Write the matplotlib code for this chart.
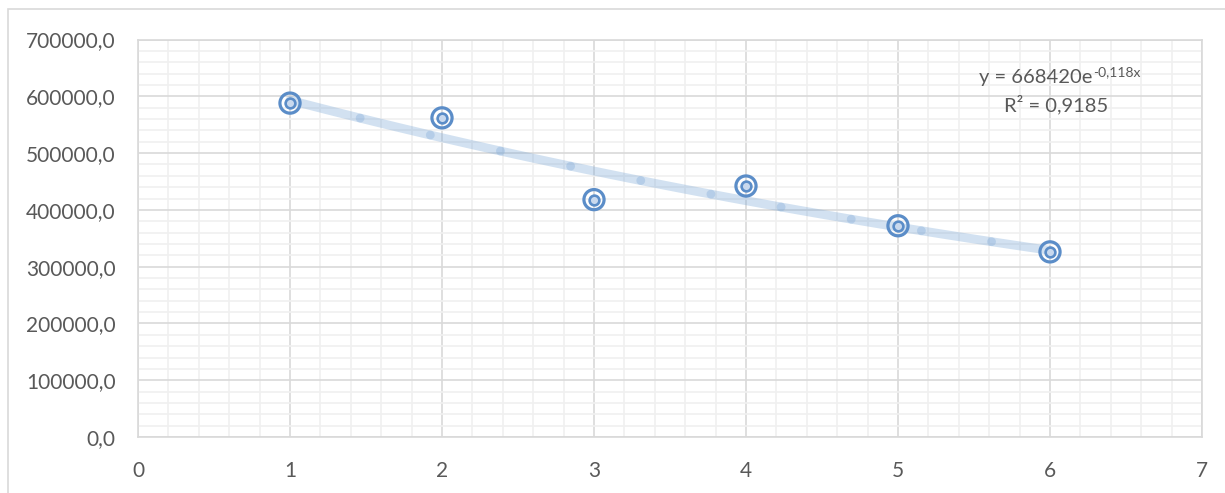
import numpy as np
import matplotlib
matplotlib.use('Agg')
import matplotlib.pyplot as plt
from matplotlib.patches import Rectangle
from matplotlib.ticker import MultipleLocator, FuncFormatter

# data
x_vals = [1, 2, 3, 4, 5, 6]
y_vals = [588000, 562000, 418000, 442000, 372000, 326000]
eq_label = 'y = 668420e'
eq_power = '-0,118x'
r2_label = 'R\u00b2 = 0,9185'

plt.rcParams['font.family'] = ['Lato', 'DejaVu Sans']

GRID_MAJOR = '#D9D9D9'
GRID_MINOR = '#F0F0F0'
TEXT = '#595959'
BLUE = '#5B8DC8'
H = 493

fig = plt.figure(figsize=(12.25, 4.93), dpi=100)
ax = fig.add_axes([138 / 1225, 1 - 437 / H, (1202 - 138) / 1225, (437 - 39.5) / H])

# chart frame (cut at right and bottom like the screenshot)
fig.patches.append(Rectangle((8 / 1225, -0.1), 1.2, 1 - 9.5 / H + 0.1,
                             transform=fig.transFigure, fill=False,
                             edgecolor=GRID_MAJOR, lw=1.2))

ax.set_xlim(0, 7)
ax.set_ylim(0, 700000)
ax.xaxis.set_major_locator(MultipleLocator(1))
ax.xaxis.set_minor_locator(MultipleLocator(0.2))
ax.yaxis.set_major_locator(MultipleLocator(100000))
ax.yaxis.set_minor_locator(MultipleLocator(20000))
ax.yaxis.set_major_formatter(FuncFormatter(lambda v, p: f'{v:.1f}'.replace('.', ',')))
ax.grid(True, which='major', color=GRID_MAJOR, lw=1.2)
ax.grid(True, which='minor', color=GRID_MINOR, lw=1.2)
ax.set_axisbelow(True)
for s in ax.spines.values():
    s.set_color(GRID_MAJOR)
    s.set_linewidth(1.2)
ax.tick_params(which='both', length=0)
ax.tick_params(axis='x', pad=17, labelsize=15, labelcolor=TEXT)
ax.tick_params(axis='y', pad=16, labelsize=15, labelcolor=TEXT)

# exponential trendline fitted to the data
b, ln_a = np.polyfit(x_vals, np.log(y_vals), 1)
step = 6 / 13
knots = list(np.arange(x_vals[0], x_vals[-1], step)) + [x_vals[-1]]
for x0, x1 in zip(knots[:-1], knots[1:]):
    xs = np.linspace(x0, x1, 10)
    ax.plot(xs, np.exp(ln_a + b * xs), color='#7FAAD8', alpha=0.35, lw=6.4,
            solid_capstyle='round', zorder=2)

# double-ring markers
ax.scatter(x_vals, y_vals, s=14.5 ** 2, facecolor='none', edgecolor=BLUE,
           linewidth=2.3, zorder=3)
ax.scatter(x_vals, y_vals, s=7 ** 2, facecolor='#C9D9EE', edgecolor=BLUE,
           linewidth=1.9, zorder=4)

# trendline label (pixel positions, y measured from top)
ax.text(1092, H - 77.5, eq_label, transform=None, ha='right', va='center',
        fontsize=14.5, color=TEXT)
ax.text(1093, H - 72, eq_power, transform=None, ha='left', va='center',
        fontsize=10, color=TEXT)
ax.text(1056, H - 105, r2_label, transform=None, ha='center', va='center',
        fontsize=14.5, color=TEXT)

fig.savefig('out.png', dpi=100)
